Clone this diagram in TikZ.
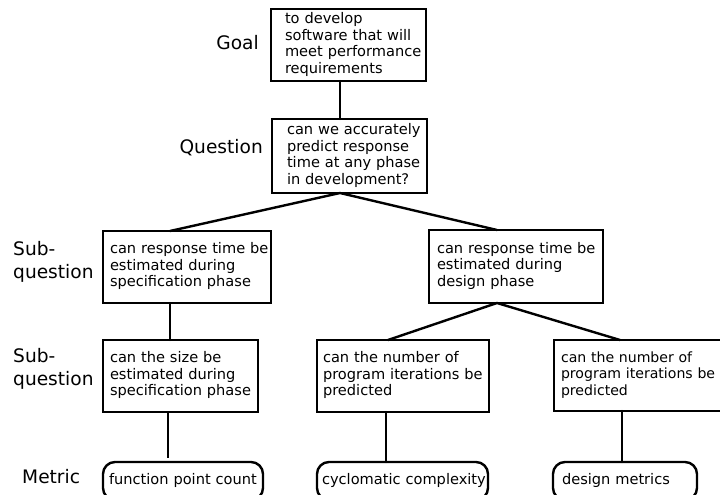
\documentclass[tikz,border=0pt]{standalone}
\usepackage{fontspec}
\setmainfont{DejaVu Sans}
\newcommand{\boxlines}[1]{\begin{tabular}{@{}l@{}}#1\end{tabular}}
\tikzset{
  qbox/.style n args={3}{draw, line width=2.4pt, outer sep=0pt, anchor=north west,
    align=left, inner ysep=0pt, minimum width=#1, minimum height=#2,
    inner xsep=#3, text width=#1-2*#3,
    font=\fontsize{14.6}{16.6}\selectfont},
  pill/.style n args={2}{draw, line width=2.4pt, outer sep=0pt, anchor=north west,
    rounded corners=12pt, align=left, inner ysep=0pt, minimum width=#1,
    minimum height=38pt, inner xsep=#2, text width=#1-2*#2,
    font=\fontsize{14.6}{16.6}\selectfont},
  lvl/.style={font=\fontsize{18.6}{23.5}\selectfont, align=left, inner sep=0pt},
  conn/.style={line width=2.4pt, line join=round, line cap=round},
}
\begin{document}
\begin{tikzpicture}[x=1pt,y=-1pt]
\useasboundingbox (0,0) rectangle (720,495);
\clip (0,0) rectangle (720,495);
\fill[white] (0,0) rectangle (720,495);

% level labels
\node[lvl, anchor=east] (lgoal) at (259,43) {Goal};
\node[lvl, anchor=east] (lq) at (263,148) {Question};
\node[lvl, anchor=west] (ls1) at (13,262) {Sub-\\question};
\node[lvl, anchor=west] (ls2) at (13,369) {Sub-\\question};
\node[lvl, anchor=west] (lm) at (22,477) {Metric};

% boxes
\node[qbox={155pt}{72pt}{14pt}] (goal) at (271,9)
  {\boxlines{to develop\\software that will\\meet performance\\requirements}};
\node[qbox={155pt}{74pt}{15pt}] (quest) at (272,119)
  {\boxlines{can we accurately\\predict response\\time at any phase\\in development?}};
\node[qbox={168pt}{72pt}{7pt}] (sub1) at (103,231)
  {\boxlines{can response time be\\estimated during\\specification phase}};
\node[qbox={174pt}{73pt}{8pt}] (sub2) at (429,230)
  {\boxlines{can response time be\\estimated during\\design phase}};
\node[qbox={155pt}{72pt}{7pt}] (ss1) at (103,340)
  {\boxlines{can the size be\\estimated during\\specification phase}};
\node[qbox={172pt}{72pt}{6pt}] (ss2) at (317,340)
  {\boxlines{can the number of\\program iterations be\\predicted}};
\node[qbox={180pt}{71pt}{7pt}, font=\fontsize{14.1}{16.4}\selectfont] (ss3) at (554,340)
  {\boxlines{can the number of\\program iterations be\\predicted}};

% metrics
\node[pill={160pt}{6pt}] (m1) at (103,462) {\boxlines{function point count}};
\node[pill={171pt}{5pt}] (m2) at (317,462) {\boxlines{cyclomatic complexity}};
\node[pill={144pt}{9pt}] (m3) at (553,462) {\boxlines{design metrics}};

% connectors
\draw[conn] ([xshift=69pt]goal.south west) -- ([xshift=68pt]quest.north west);
\draw[conn] ([xshift=67pt]sub1.north west) -- ([xshift=68pt]quest.south west)
  -- ([xshift=68pt]sub2.north west);
\draw[conn] ([xshift=67pt]sub1.south west) -- ([xshift=67pt]ss1.north west);
\draw[conn] ([xshift=71pt]ss2.north west) -- ([xshift=68pt]sub2.south west)
  -- ([xshift=66pt]ss3.north west);
\coordinate (e1) at ([xshift=65pt,yshift=-46pt]ss1.south west);
\draw[line width=1.8pt] ([xshift=65pt]ss1.south west) -- (e1);
\draw[conn] ([xshift=69pt]ss2.south west) -- ([xshift=69pt]m2.north west);
\draw[conn] ([xshift=68pt]ss3.south west) -- ([xshift=69pt]m3.north west);
\end{tikzpicture}
\end{document}
